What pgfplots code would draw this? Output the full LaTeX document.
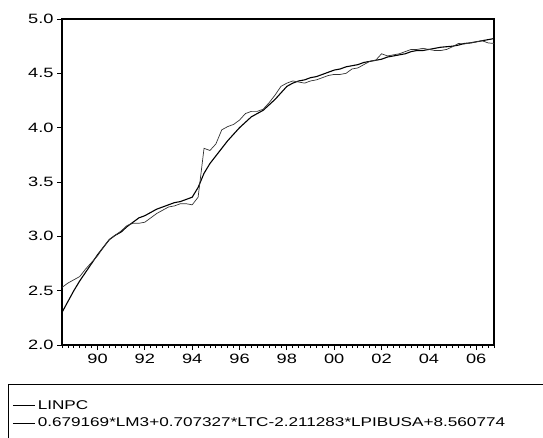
\documentclass[border=0pt]{standalone}
\usepackage{fontspec}
\setmainfont{Liberation Sans}[FakeStretch=1.35]
\usepackage{pgfplots}
\pgfplotsset{compat=1.18}
\usepackage{pgfplotstable}
\pgfplotstableread{
t a b
1988.50 2.30 2.53
1988.75 2.40 2.57
1989.00 2.50 2.60
1989.25 2.59 2.63
1989.50 2.67 2.70
1989.75 2.75 2.76
1990.00 2.83 2.82
1990.25 2.90 2.90
1990.50 2.97 2.97
1990.75 3.01 3.01
1991.00 3.04 3.05
1991.25 3.09 3.10
1991.50 3.13 3.12
1991.75 3.17 3.12
1992.00 3.19 3.13
1992.25 3.22 3.17
1992.50 3.25 3.21
1992.75 3.27 3.24
1993.00 3.29 3.27
1993.25 3.31 3.28
1993.50 3.32 3.30
1993.75 3.34 3.30
1994.00 3.36 3.29
1994.25 3.45 3.36
1994.50 3.58 3.81
1994.75 3.67 3.79
1995.00 3.74 3.85
1995.25 3.81 3.98
1995.50 3.88 4.01
1995.75 3.94 4.03
1996.00 4.00 4.07
1996.25 4.05 4.13
1996.50 4.10 4.15
1996.75 4.13 4.15
1997.00 4.16 4.17
1997.25 4.21 4.23
1997.50 4.26 4.30
1997.75 4.32 4.38
1998.00 4.38 4.41
1998.25 4.41 4.43
1998.50 4.43 4.42
1998.75 4.44 4.41
1999.00 4.46 4.43
1999.25 4.47 4.44
1999.50 4.49 4.46
1999.75 4.51 4.48
2000.00 4.53 4.49
2000.25 4.54 4.49
2000.50 4.56 4.50
2000.75 4.57 4.54
2001.00 4.58 4.55
2001.25 4.60 4.58
2001.50 4.61 4.61
2001.75 4.62 4.62
2002.00 4.63 4.68
2002.25 4.65 4.66
2002.50 4.66 4.67
2002.75 4.67 4.68
2003.00 4.68 4.70
2003.25 4.70 4.72
2003.50 4.71 4.72
2003.75 4.71 4.73
2004.00 4.72 4.72
2004.25 4.73 4.71
2004.50 4.74 4.71
2004.75 4.745 4.72
2005.00 4.75 4.745
2005.25 4.76 4.775
2005.50 4.775 4.77
2005.75 4.78 4.78
2006.00 4.79 4.79
2006.25 4.80 4.80
2006.50 4.81 4.78
2006.75 4.82 4.775
}\datatab
\begin{document}
\begin{tikzpicture}
\useasboundingbox (0bp,0bp) rectangle (543bp,438bp);
\begin{axis}[
  at={(62bp,93bp)}, anchor=south west,
  scale only axis, width=432bp, height=326bp,
  xmin=1988.5, xmax=2006.75, ymin=2, ymax=5,
  axis line style={line width=1.3bp},
  xtick={1990,1992,...,2006},
  xticklabels={90,92,94,96,98,00,02,04,06},
  minor xtick={1988.5,1988.75,...,2006.75},
  ytick={2,2.5,...,5},
  yticklabel style={/pgf/number format/.cd, fixed, fixed zerofill, precision=1},
  xticklabel style={yshift=-1bp},
  /pgf/number format/assume math mode=true,
  tick align=outside, xtick pos=bottom, ytick pos=left,
  major tick length=5bp, minor tick length=3bp,
  tick style={black, line width=0.8bp},
  ticklabel style={font=\fontsize{13.5bp}{16bp}\selectfont},
  legend style={at={(axis description cs:-0.12,-0.158)}, anchor=north west, draw=none, fill=none,
    font=\fontsize{12.7bp}{15bp}\selectfont, row sep=2.8bp, inner xsep=2bp, inner ysep=2bp,
    nodes={inner xsep=2.5bp}},
  legend cell align=left,
]
\addplot[black, line width=1.1bp, legend image code/.code={\draw[black, line width=0.9bp] (0bp,0bp) -- (22bp,0bp);}] table[x=t, y=a] {\datatab};
\addlegendentry{LINPC}
\addplot[black!80, line width=0.7bp, legend image code/.code={\draw[black, line width=0.9bp] (0bp,0bp) -- (22bp,0bp);}] table[x=t, y=b] {\datatab};
\addlegendentry{0.679169*LM3+0.707327*LTC-2.211283*LPIBUSA+8.560774}
\end{axis}
\draw[line width=0.9bp] (8bp,-20bp) -- (8bp,54bp) -- (560bp,54bp);
\end{tikzpicture}
\end{document}
